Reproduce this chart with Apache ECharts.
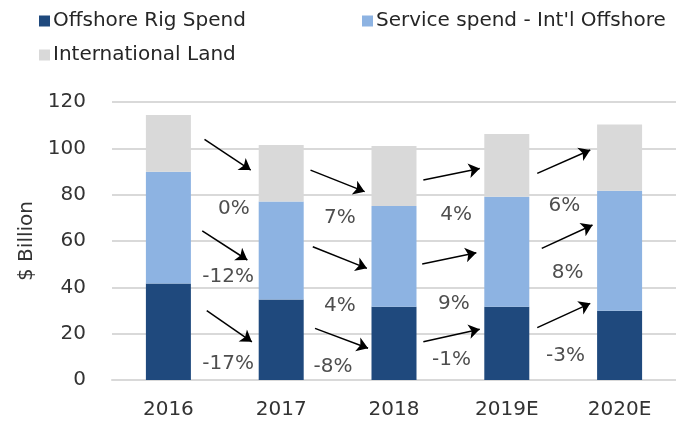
<!DOCTYPE html>
<html>
<head>
<meta charset="utf-8">
<script src="https://cdn.jsdelivr.net/npm/echarts@6/dist/echarts.min.js"></script>
<style>
  html, body { margin: 0; padding: 0; background: #fff; }
  #chart { width: 676px; height: 422px; }
</style>
</head>
<body>
<div id="chart"></div>
<script>
const years = ['2016', '2017', '2018', '2019E', '2020E'];
const offshoreRig = [41.7, 34.8, 31.6, 31.6, 29.9];
const serviceOffshore = [48.2, 42.2, 43.5, 47.5, 51.8];
const intlLand = [24.5, 24.4, 25.9, 27.1, 28.6];

// growth arrows: [fromIndex, fromValue, toIndex, toValue]
const arrows = [
    [0.32, 103.9, 0.73, 90.6], [0.30, 64.4, 0.70, 51.8], [0.34, 29.9, 0.74, 16.5],
    [1.26, 90.6, 1.74, 81.3], [1.28, 57.5, 1.76, 48.2], [1.30, 22.3, 1.77, 13.7],
    [2.26, 86.3, 2.76, 91.3], [2.25, 50.1, 2.73, 54.9], [2.26, 16.5, 2.76, 21.9],
    [3.27, 89.2, 3.74, 99.3], [3.31, 56.8, 3.76, 66.9], [3.27, 22.6, 3.74, 33.1]
];
// growth labels: [index, value, text]
const growth = [
    [0.58, 74.1, '0%'], [0.53, 44.6, '-12%'], [0.53, 7.2, '-17%'],
    [1.52, 69.8, '7%'], [1.52, 31.9, '4%'], [1.46, 5.7, '-8%'],
    [2.55, 71.2, '4%'], [2.53, 33.1, '9%'], [2.51, 8.6, '-1%'],
    [3.51, 75.1, '6%'], [3.54, 46.3, '8%'], [3.52, 10.4, '-3%']
];

const font = 'DejaVu Sans';
const chart = echarts.init(document.getElementById('chart'));

const legendBase = {
    itemWidth: 11,
    itemHeight: 11,
    itemGap: 0,
    icon: 'rect',
    textStyle: { fontFamily: font, fontSize: 20, color: '#262626', padding: [0, 0, 0, -2] },
    selectedMode: false
};

chart.setOption({
    animation: false,
    textStyle: { fontFamily: font },
    legend: [
        Object.assign({ data: ['Offshore Rig Spend'], left: 34, top: 6 }, legendBase),
        Object.assign({ data: ['Service spend - Int\'l Offshore'], left: 357, top: 6 }, legendBase),
        Object.assign({ data: ['International Land'], left: 34, top: 40 }, legendBase)
    ],
    grid: { left: 112, right: 0, top: 102, bottom: 42 },
    xAxis: [
        {
            type: 'category',
            data: years,
            axisLine: { lineStyle: { color: '#d9d9d9', width: 2 } },
            axisTick: { show: false },
            axisLabel: { fontSize: 20, color: '#333', margin: 20 }
        },
        { type: 'value', min: -0.5, max: 4.5, show: false }
    ],
    yAxis: {
        type: 'value',
        min: 0,
        max: 120,
        interval: 20,
        name: '$ Billion',
        nameLocation: 'middle',
        nameGap: 73,
        nameTextStyle: { fontSize: 20, color: '#333' },
        axisLine: { show: false },
        axisTick: { show: false },
        axisLabel: { fontSize: 20, color: '#333', margin: 26 },
        splitLine: { lineStyle: { color: '#d9d9d9', width: 2 } }
    },
    series: [
        { name: 'Offshore Rig Spend', type: 'bar', stack: 'total', barWidth: 45, data: offshoreRig, itemStyle: { color: '#1f497d' } },
        { name: 'Service spend - Int\'l Offshore', type: 'bar', stack: 'total', data: serviceOffshore, itemStyle: { color: '#8db3e2' } },
        { name: 'International Land', type: 'bar', stack: 'total', data: intlLand, itemStyle: { color: '#d9d9d9' } },
        {
            type: 'lines',
            coordinateSystem: 'cartesian2d',
            xAxisIndex: 1,
            symbol: ['none', 'arrow'],
            symbolSize: 11,
            lineStyle: { color: '#000', width: 1.5, opacity: 1 },
            data: arrows.map(a => ({ coords: [[a[0], a[1]], [a[2], a[3]]] })),
            z: 5
        },
        {
            type: 'scatter',
            xAxisIndex: 1,
            symbolSize: 0,
            data: growth.map(g => ({ value: [g[0], g[1]], label: { formatter: g[2] } })),
            label: { show: true, position: 'inside', fontSize: 20, color: '#222' },
            z: 6
        }
    ]
});
</script>
</body>
</html>
